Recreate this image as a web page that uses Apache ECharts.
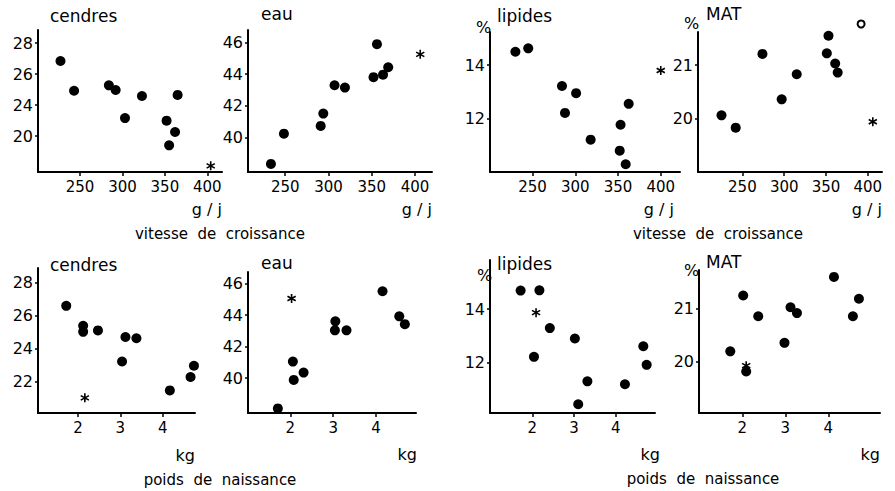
<!DOCTYPE html>
<html>
<head>
<meta charset="utf-8">
<script src="https://cdn.jsdelivr.net/npm/echarts@6/dist/echarts.min.js"></script>
<style>
  html, body { margin: 0; padding: 0; background: #fff; }
  #chart { width: 895px; height: 491px; }
</style>
</head>
<body>
<div id="chart"></div>
<script>
// vitesse de croissance (g/j) -- haut
var vitCendresX = [227, 243, 284, 292, 323, 303, 365, 352, 362, 355];
var vitCendresY = [26.84, 24.92, 25.27, 24.97, 24.58, 23.16, 24.65, 22.99, 22.26, 21.4];
var vitCendresStar = [404, 20.08];

var vitEauX = [233.5, 248.5, 291, 294, 307, 319, 356, 352, 363, 369];
var vitEauY = [38.31, 40.23, 40.72, 41.5, 43.3, 43.15, 45.9, 43.81, 43.97, 44.44];
var vitEauStar = [406, 45.26];

var vitLipX = [230, 245, 284.5, 301, 288, 362.5, 318, 353, 352, 359];
var vitLipY = [14.5, 14.63, 13.22, 12.95, 12.21, 12.55, 11.21, 11.77, 10.8, 10.29];
var vitLipStar = [400, 13.8];

var vitMatX = [225, 242, 274, 297, 315, 353, 351, 361, 364];
var vitMatY = [20.06, 19.83, 21.21, 20.36, 20.83, 21.55, 21.22, 21.03, 20.86];
var vitMatOpen = [392, 21.77];
var vitMatStar = [406, 19.94];

// poids de naissance (kg) -- bas
var pnCendresX = [1.72, 2.12, 2.12, 2.47, 3.12, 3.38, 3.04, 4.17, 4.66, 4.74];
var pnCendresY = [26.59, 25.38, 25.01, 25.1, 24.7, 24.62, 23.21, 21.45, 22.27, 22.95];
var pnCendresStar = [2.16, 21.0];

var pnEauX = [1.71, 2.06, 2.08, 2.31, 3.05, 3.04, 3.31, 4.15, 4.54, 4.67];
var pnEauY = [38.08, 41.05, 39.89, 40.35, 43.6, 43.03, 43.03, 45.51, 43.92, 43.42];
var pnEauStar = [2.03, 45.05];

var pnLipX = [1.72, 2.17, 2.42, 2.04, 3.02, 3.32, 3.1, 4.22, 4.66, 4.74];
var pnLipY = [14.7, 14.71, 13.29, 12.21, 12.9, 11.29, 10.43, 11.18, 12.61, 11.91];
var pnLipStar = [2.09, 13.87];

var pnMatX = [2.02, 1.72, 2.37, 2.09, 2.98, 3.12, 3.27, 4.13, 4.57, 4.71];
var pnMatY = [21.25, 20.2, 20.86, 19.82, 20.36, 21.03, 20.92, 21.6, 20.86, 21.19];
var pnMatStar = [2.09, 19.93];

// graduations
var vitTicks = [250, 300, 350, 400];
var pnTicks = [2, 3, 4];
var cendresTicks = [22, 24, 26, 28];
var cendresVitLabels = ['20', '24', '26', '28'];
var cendresPnLabels = ['22', '24', '26', '28'];
var eauTicks = [40, 42, 44, 46];
var lipTicks = [12, 14];
var matTicks = [20, 21];

var chart = echarts.init(document.getElementById('chart'), null, {renderer: 'svg'});

var FONT = '"DejaVu Sans", sans-serif';
var starPath = 'path://M-0.17,-1L0.17,-1L0.17,1L-0.17,1Z' +
    'M0.781,-0.647L0.951,-0.353L-0.781,0.647L-0.951,0.353Z' +
    'M0.951,0.353L0.781,0.647L-0.951,-0.353L-0.781,-0.647Z';

function zip(xs, ys) {
    return xs.map(function (x, i) { return [x, ys[i]]; });
}

// panneaux : position de la grille + bornes des axes
var panels = [
    {grid: [38, 30, 184, 142], x: [200.5, 417.3], y: [19.68, 28.84], xt: vitTicks, yt: cendresTicks, yl: cendresVitLabels,
        pts: zip(vitCendresX, vitCendresY), star: vitCendresStar},
    {grid: [248, 30, 184, 142], x: [207, 419.6], y: [37.8, 46.8], xt: vitTicks, yt: eauTicks,
        pts: zip(vitEauX, vitEauY), star: vitEauStar},
    {grid: [490, 32, 190, 140], x: [200.3, 422.5], y: [10.0, 15.24], xt: vitTicks, yt: lipTicks,
        pts: zip(vitLipX, vitLipY), star: vitLipStar},
    {grid: [698, 32, 184, 140], x: [196.9, 417], y: [19.0, 21.62], xt: vitTicks, yt: matTicks,
        pts: zip(vitMatX, vitMatY), star: vitMatStar, open: vitMatOpen},
    {grid: [38, 268, 157, 145], x: [1.052, 4.765], y: [20.08, 28.89], xt: pnTicks, yt: cendresTicks, yl: cendresPnLabels,
        pts: zip(pnCendresX, pnCendresY), star: pnCendresStar},
    {grid: [248, 272, 168, 141], x: [1.014, 4.93], y: [37.79, 46.73], xt: pnTicks, yt: eauTicks,
        pts: zip(pnEauX, pnEauY), star: pnEauStar},
    {grid: [490, 260, 165, 153], x: [0.986, 4.94], y: [10.1, 15.85], xt: pnTicks, yt: lipTicks,
        pts: zip(pnLipX, pnLipY), star: pnLipStar},
    {grid: [699, 270, 181, 143], x: [0.993, 5.2], y: [19.04, 21.73], xt: pnTicks, yt: matTicks,
        pts: zip(pnMatX, pnMatY), star: pnMatStar}
];

var grids = [], xAxes = [], yAxes = [], series = [];
panels.forEach(function (p, i) {
    grids.push({left: p.grid[0], top: p.grid[1], width: p.grid[2], height: p.grid[3]});
    xAxes.push({
        gridIndex: i, type: 'value', min: p.x[0], max: p.x[1],
        axisLine: {show: true, onZero: false, lineStyle: {color: '#000', width: 2}},
        axisTick: {show: true, customValues: p.xt, length: 4, lineStyle: {color: '#000', width: 1.5}},
        axisLabel: {customValues: p.xt, margin: 7, color: '#000', fontSize: 15, fontFamily: FONT},
        splitLine: {show: false}
    });
    var labels = p.yl;
    yAxes.push({
        gridIndex: i, type: 'value', min: p.y[0], max: p.y[1],
        axisLine: {show: true, onZero: false, lineStyle: {color: '#000', width: 2}},
        axisTick: {show: true, customValues: p.yt, length: 3, lineStyle: {color: '#000', width: 1.5}},
        axisLabel: {
            customValues: p.yt, margin: 5, color: '#000', fontSize: 16, fontFamily: FONT,
            formatter: function (v) {
                if (labels) return labels[p.yt.indexOf(v)];
                return String(v);
            }
        },
        splitLine: {show: false}
    });
    series.push({
        type: 'scatter', xAxisIndex: i, yAxisIndex: i, data: p.pts, clip: false,
        symbol: 'circle', symbolSize: 10, itemStyle: {color: '#000', opacity: 1}, silent: true
    });
    series.push({
        type: 'scatter', xAxisIndex: i, yAxisIndex: i, data: [p.star], clip: false,
        symbol: starPath, symbolSize: 9, itemStyle: {color: '#000', opacity: 1}, silent: true
    });
    if (p.open) {
        series.push({
            type: 'scatter', xAxisIndex: i, yAxisIndex: i, data: [p.open], clip: false,
            symbol: 'circle', symbolSize: 7,
            itemStyle: {color: '#fff', borderColor: '#000', borderWidth: 2, opacity: 1}, silent: true
        });
    }
});

function txt(s, x, y, size, align) {
    return {
        type: 'text', x: x, y: y, silent: true,
        style: {text: s, fill: '#000', font: (size || 16) + 'px ' + FONT,
            textAlign: align || 'left', textVerticalAlign: 'middle'}
    };
}

var texts = [
    txt('cendres', 50, 16, 17), txt('eau', 261, 14, 17), txt('lipides', 497, 16, 17), txt('%', 476, 27, 16),
    txt('MAT', 706, 14, 17), txt('%', 684, 23, 16),
    txt('g / j', 222, 209, 16, 'right'), txt('g / j', 432, 209, 16, 'right'),
    txt('g / j', 674, 209, 16, 'right'), txt('g / j', 882, 209, 16, 'right'),
    txt('vitesse  de  croissance', 220, 234, 15, 'center'), txt('vitesse  de  croissance', 718, 234, 15, 'center'),
    txt('cendres', 50, 265, 17), txt('eau', 261, 263, 17), txt('lipides', 497, 264, 17), txt('%', 477, 275, 16),
    txt('MAT', 706, 262, 17), txt('%', 684, 270, 16),
    txt('kg', 195, 455, 16, 'right'), txt('kg', 417, 454, 16, 'right'),
    txt('kg', 660, 454, 16, 'right'), txt('kg', 880, 454, 16, 'right'),
    txt('poids  de  naissance', 220, 480, 15, 'center'), txt('poids  de  naissance', 703, 479, 15, 'center')
];

chart.setOption({
    animation: false,
    backgroundColor: '#fff',
    grid: grids,
    xAxis: xAxes,
    yAxis: yAxes,
    series: series,
    graphic: texts
});
</script>
</body>
</html>
